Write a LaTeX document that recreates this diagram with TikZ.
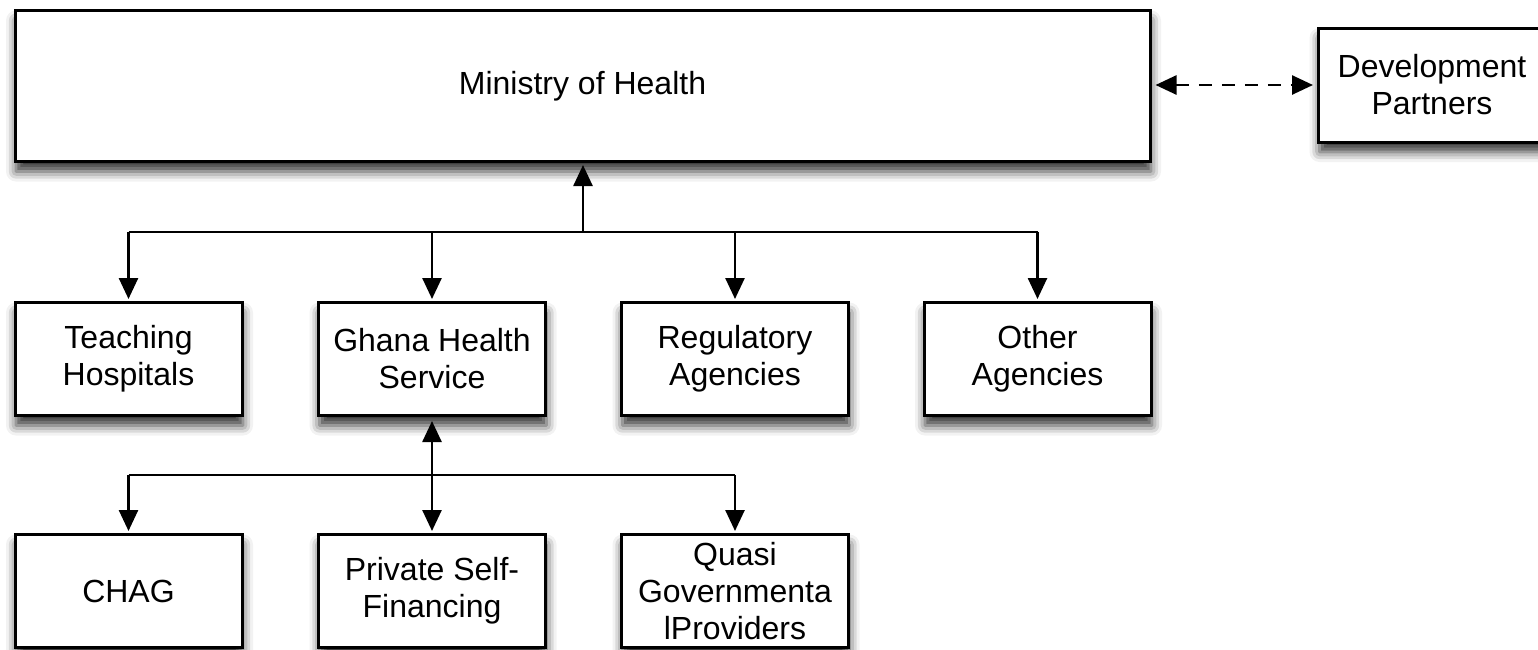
\documentclass[tikz,border=0pt]{standalone}
\usepackage{fontspec}
\setmainfont{Liberation Sans}
\usetikzlibrary{arrows.meta,shadows.blur}
\begin{document}
\begin{tikzpicture}[x=0.5pt,y=-0.5pt,
  box/.style={draw=black,line width=1.5pt,fill=white,rectangle,align=center,
    inner sep=2pt,font=\fontsize{16}{18.5}\selectfont,
    blur shadow={shadow xshift=0.5pt,shadow yshift=-5pt,shadow blur radius=5pt,shadow opacity=80}},
  smallbox/.style={box,minimum width=113.5pt,minimum height=56.5pt},
  conn/.style={line width=1.3pt,draw=black},
  tip/.tip={Triangle[length=10.5pt,width=9.5pt]},
  arr/.style={conn,-tip},
  darr/.style={conn,tip-tip}
]
\useasboundingbox (0,0) rectangle (1538,649);
\node[box,minimum width=567.5pt,minimum height=75.5pt] (min) at (582.5,86) {Ministry of Health};
\node[box,minimum width=113.5pt,minimum height=57pt] (dp) at (1432,85) {Development\\Partners};

\node[smallbox] (th) at (128.5,359) {Teaching\\Hospitals};
\node[smallbox] (ghs) at (432,359) {Ghana Health\\Service};
\node[smallbox] (ra) at (735,359) {Regulatory\\Agencies};
\node[smallbox] (oa) at (1037.5,359) {Other\\Agencies};

\node[smallbox] (chag) at (128.5,591) {CHAG};
\node[smallbox] (psf) at (432,591) {Private Self-\\Financing};
\node[smallbox] (qgp) at (735,591) {Quasi\\Governmenta\\lProviders};

\coordinate (hub) at (583,232);
\coordinate (hubb) at (432,475);

\draw[darr,dash pattern=on 6.5pt off 5pt,shorten <=2pt,shorten >=2pt] (min.east |- dp.west) -- (dp.west);

\draw[arr,shorten >=1pt] (hub) -- (min.south -| hub);
\draw[conn] (th.north |- hub) -- (oa.north |- hub);
\draw[arr,shorten >=1pt] (th.north |- hub) -- (th.north);
\draw[arr,shorten >=1pt] (ghs.north |- hub) -- (ghs.north);
\draw[arr,shorten >=1pt] (ra.north |- hub) -- (ra.north);
\draw[arr,shorten >=1pt] (oa.north |- hub) -- (oa.north);

\draw[darr,shorten >=1pt,shorten <=2pt] (ghs.south) -- (psf.north);
\draw[conn] (chag.north |- hubb) -- (qgp.north |- hubb);
\draw[arr,shorten >=1pt] (chag.north |- hubb) -- (chag.north);
\draw[arr,shorten >=1pt] (qgp.north |- hubb) -- (qgp.north);
\end{tikzpicture}
\end{document}
